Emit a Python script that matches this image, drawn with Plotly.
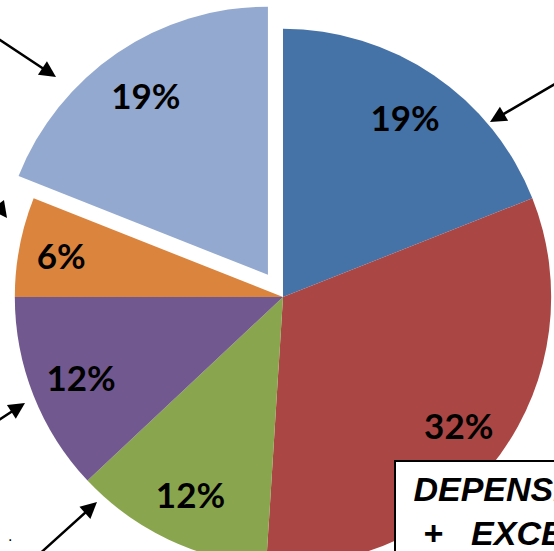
import plotly.graph_objects as go

# ---- data ----
categories = ["Poste 1", "Poste 2", "Poste 3", "Poste 4", "Poste 5", "Poste 6"]
values = [19, 32, 12, 12, 6, 19]
colors = ["#4572A7", "#AA4643", "#89A54E", "#71588F", "#DB843D", "#93A9CF"]
pulls = [0, 0, 0, 0, 0, 0.1]
box_lines = ["DEPENSES", "+", "EXCEDENTS"]

# ---- geometry of the figure (page is cropped like the reference) ----
W = H = 590
OX, OY = -12, 2  # figure origin in the browser window


def px(x):
    return (x - OX) / W


def py(y):
    return 1 - (y - OY) / H


common = dict(
    labels=categories,
    values=values,
    sort=False,
    direction="clockwise",
    rotation=0,
    pull=pulls,
    domain=dict(x=[0, 1], y=[0, 1]),
    hoverinfo="skip",
    showlegend=False,
)

# coloured slices
fig = go.Figure(
    go.Pie(
        **common,
        marker=dict(colors=colors, line=dict(width=0)),
        textinfo="none",
    )
)
# percentage labels, laid out in the outer ring of the same pie
fig.add_trace(
    go.Pie(
        **common,
        hole=0.62,
        marker=dict(colors=["rgba(0,0,0,0)"] * len(values), line=dict(width=0)),
        textinfo="percent",
        textposition="inside",
        insidetextorientation="horizontal",
        textfont=dict(family="Lato", size=35, color="black", weight="bold"),
    )
)

# arrows (tip, tail) in window pixels
arrows = [
    ((56, 77), (-6, 36)),
    ((7, 218), (-45, 192)),
    ((25, 403), (-15, 427)),
    ((97, 502), (35, 558)),
    ((490, 122), (572, 74)),
]
annotations = []
for (tx, ty), (sx, sy) in arrows:
    annotations.append(
        dict(
            x=px(tx), y=py(ty), xref="paper", yref="paper",
            ax=sx - tx, ay=sy - ty, axref="pixel", ayref="pixel",
            showarrow=True, arrowhead=2, arrowsize=1.3, arrowwidth=2.5,
            arrowcolor="black", standoff=0, text="",
        )
    )

annotations.append(
    dict(
        x=px(10), y=py(546), xref="paper", yref="paper",
        text=".", showarrow=False, font=dict(size=16, color="black", family="Liberation Sans"),
        xanchor="center", yanchor="bottom",
    )
)

nb = "\u00a0"
annotations.append(
    dict(
        x=px(394), y=py(460), xref="paper", yref="paper",
        xanchor="left", yanchor="top", align="left",
        text=nb + box_lines[0] + "<br>" + nb + nb + box_lines[1] + nb * 3 + box_lines[2],
        showarrow=False,
        font=dict(family="Liberation Sans", size=34, color="black", weight="bold", style="italic"),
        bgcolor="white", bordercolor="black", borderwidth=2, borderpad=8,
    )
)

fig.update_layout(
    width=W, height=H,
    margin=dict(l=0, r=0, t=0, b=0),
    paper_bgcolor="white",
    plot_bgcolor="white",
    annotations=annotations,
)

post = (
    "var gd=document.getElementById('{plot_id}');"
    "document.documentElement.style.overflow='hidden';"
    "document.body.style.margin='0';document.body.style.overflow='hidden';"
    "gd.style.position='absolute';gd.style.left='" + str(OX) + "px';gd.style.top='" + str(OY) + "px';"
)

fig.write_html("out.html", post_script=post)
